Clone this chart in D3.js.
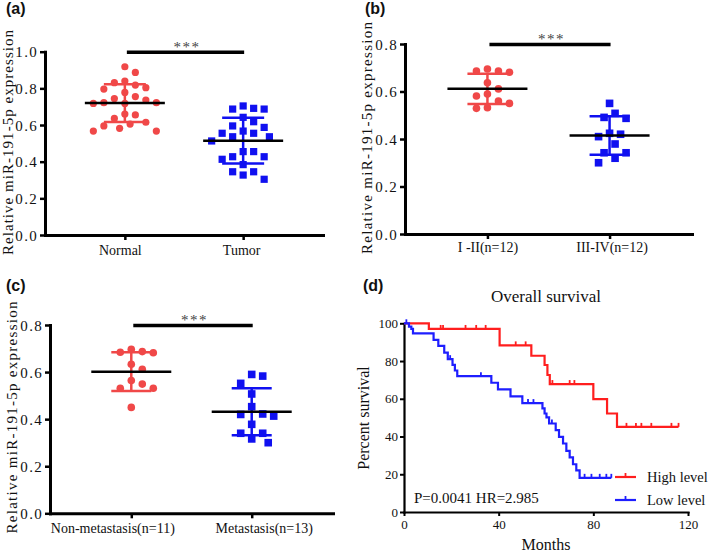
<!DOCTYPE html>
<html><head><meta charset="utf-8">
<script src="https://cdn.jsdelivr.net/npm/d3@7"></script>
<style>body{margin:0;background:#fff}svg{display:block}</style>
</head><body>
<svg id="c" width="709" height="552"></svg>
<script>
// ---------- DATA ----------
const catsA = ["Normal", "Tumor"];
const normalVals = [0.918,0.887,0.831,0.84,0.804,0.796,0.818,0.755,0.778,0.736,0.722,0.718,0.718,0.722,0.744,0.655,0.636,0.66,0.605,0.582,0.567,0.567,0.595,0.615];
const tumorVals  = [0.704,0.687,0.687,0.691,0.642,0.618,0.595,0.587,0.555,0.536,0.536,0.555,0.567,0.513,0.455,0.455,0.427,0.413,0.427,0.384,0.345,0.327,0.345,0.304];

const catsB = ["I -II(n=12)", "III-IV(n=12)"];
const stageEarlyVals = [0.695,0.686,0.686,0.681,0.637,0.611,0.589,0.581,0.550,0.529,0.532,0.560];
const stageLateVals  = [0.550,0.508,0.487,0.491,0.424,0.410,0.420,0.379,0.342,0.342,0.319,0.300];

const catsC = ["Non-metastasis(n=11)", "Metastasis(n=13)"];
const nonMetVals = [0.697,0.684,0.682,0.687,0.612,0.633,0.564,0.531,0.531,0.549,0.450];
const metVals    = [0.583,0.590,0.552,0.507,0.453,0.422,0.413,0.420,0.378,0.340,0.340,0.316,0.300];

const ticksA = [0, 0.2, 0.4, 0.6, 0.8, 1.0];
const ticksBC = [0, 0.2, 0.4, 0.6, 0.8];

// survival (Kaplan-Meier steps)
const highTimes = [10.5, 40.4, 53.8, 59.4, 60.6, 61.6, 80, 85.8, 90];
const highSurv  = [97, 88.3, 82.8, 77.9, 72.6, 67.8, 59.8, 52.2, 45.1];
const highEnd = 116;
const highCensor = [15.5, 16.5, 26, 30.5, 34.5, 47.2, 51.4, 62.7, 70, 72, 94, 98, 100.3, 104.5, 113, 116];

const lowTimes = [2.1, 3.1, 3.8, 12.5, 14.5, 17, 18.5, 20.5, 21.5, 22.5, 36.9, 39.7, 45, 50, 58.5, 59.4, 60.2, 61.3, 64.1, 65.5, 67.2, 68.6, 70, 71.4, 72.8, 74.2];
const lowSurv  = [98.2, 97, 94.7, 91.2, 88, 84.5, 81, 78, 75, 72, 68.5, 65, 61.3, 57.7, 54.9, 52.2, 50.1, 46.9, 43.4, 39.8, 36.3, 32.4, 28.9, 25.3, 22.1, 18.1];
const lowEnd = 87.6;
const lowCensor = [1, 19.5, 32.5, 52.4, 54.7, 62.5, 76.3, 79.2, 82.7, 85.5, 87.6];

const monthTicks = [0, 40, 80, 120];
const pctTicks = [0, 20, 40, 60, 80, 100];
const survLegend = ["High level", "Low level"];

// ---------- STYLE ----------
const RED = "#f04848", BLUE = "#1010f0";
const KRED = "#ff1e1e", KBLUE = "#1e1eff";
const SERIF = "'Liberation Serif','Times New Roman',serif";
const SANS = "'Liberation Sans',Arial,sans-serif";

const svg = d3.select("#c");

function swarm(vals, y, cx, d) {
  const order = vals.map((v, i) => i).sort((a, b) => vals[b] - vals[a]);
  const placed = [];
  const out = new Array(vals.length);
  for (const i of order) {
    const py = y(vals[i]);
    for (let k = 0; k < 40; k++) {
      const off = (k % 2 === 1 ? 1 : -1) * Math.ceil(k / 2) * d / 2;
      const px = cx + off;
      if (placed.every(p => (p[0] - px) ** 2 + (p[1] - py) ** 2 >= d * d * 0.98)) {
        placed.push([px, py]); out[i] = [px, py]; break;
      }
    }
  }
  return out;
}

function scatterPanel(o) {
  const g = svg.append("g");
  const y = d3.scaleLinear().domain([0, o.yMax]).range([o.yBot, o.yTop]);
  const x = d3.scalePoint().domain(o.cats).range([o.x0, o.x1]).padding(0.675);

  o.series.forEach((vals, si) => {
    const pos = swarm(vals, y, x(o.cats[si]), o.spacing);
    const col = si === 0 ? RED : BLUE;
    if (si === 0) {
      g.selectAll(null).data(pos).join("circle")
        .attr("cx", p => p[0]).attr("cy", p => p[1]).attr("r", o.r).attr("fill", col);
    } else {
      g.selectAll(null).data(pos).join("rect")
        .attr("x", p => p[0] - o.r).attr("y", p => p[1] - o.r)
        .attr("width", o.r * 2).attr("height", o.r * 2).attr("fill", col);
    }
    const m = d3.mean(vals), sd = d3.deviation(vals), cx = x(o.cats[si]);
    g.append("line").attr("x1", cx).attr("x2", cx).attr("y1", y(m - sd)).attr("y2", y(m + sd))
      .attr("stroke", col).attr("stroke-width", 2.5);
    [m - sd, m + sd].forEach(v => g.append("line").attr("x1", cx - o.cap).attr("x2", cx + o.cap)
      .attr("y1", y(v)).attr("y2", y(v)).attr("stroke", col).attr("stroke-width", 2.5));
    g.append("line").attr("x1", cx - 40).attr("x2", cx + 40).attr("y1", y(m)).attr("y2", y(m))
      .attr("stroke", "#000").attr("stroke-width", 2.5);
  });

  const ya = g.append("g").attr("transform", `translate(${o.x0},0)`)
    .call(d3.axisLeft(y).tickValues(o.ticks).tickFormat(d3.format(".1f")).tickSize(5).tickSizeOuter(0).tickPadding(2));
  const xa = g.append("g").attr("transform", `translate(0,${o.yBot})`)
    .call(d3.axisBottom(x).tickSize(5).tickSizeOuter(0));
  [ya, xa].forEach(a => {
    a.select(".domain").attr("stroke-width", 3).attr("stroke-linecap", "square");
    a.selectAll(".tick line").attr("stroke-width", 2.5);
    a.attr("font-family", SERIF).attr("font-size", 14);
  });
  ya.selectAll("text").attr("font-size", 15).attr("letter-spacing", 1.3).attr("dy", "0.34em").attr("fill", "#111");
  xa.selectAll("text").attr("y", o.catBase - o.yBot).attr("dy", 0).attr("fill", "#111")
    .attr("x", (d, i) => o.catDx[i]);

  g.append("text").attr("transform", `translate(${o.ylx},${o.yly}) rotate(-90)`)
    .attr("text-anchor", "middle").attr("font-family", SERIF).attr("font-size", 15)
    .attr("textLength", o.ylLen).attr("lengthAdjust", "spacing").attr("fill", "#111")
    .text("Relative miR-191-5p expression");

  const sy = o.yTop + 0.5;
  g.append("line").attr("x1", x(o.cats[0]) + 2).attr("x2", x(o.cats[1]) + 1)
    .attr("y1", sy).attr("y2", sy).attr("stroke", "#000").attr("stroke-width", 3.5);
  g.append("text").attr("x", (x(o.cats[0]) + x(o.cats[1])) / 2 + 3).attr("y", sy - 0.5)
    .attr("text-anchor", "middle").attr("font-family", SERIF).attr("font-size", 15)
    .attr("letter-spacing", 1.5).attr("fill", "#444").text("***");

  svg.append("text").attr("x", o.lx).attr("y", o.ly).attr("font-family", SANS)
    .attr("font-weight", "bold").attr("font-size", 16).attr("fill", "#111").text(o.label);
}

scatterPanel({cats: catsA, series: [normalVals, tumorVals], yMax: 1.0, ticks: ticksA,
  x0: 45, x1: 323, yTop: 51.7, yBot: 235, r: 3.6, spacing: 10.5, cap: 21,
  catBase: 255, catDx: [-5, -2], ylx: 12.5, yly: 142.5, ylLen: 225, label: "(a)", lx: 6, ly: 14});
scatterPanel({cats: catsB, series: [stageEarlyVals, stageLateVals], yMax: 0.8, ticks: ticksBC,
  x0: 405, x1: 692, yTop: 44, yBot: 234, r: 3.8, spacing: 11, cap: 20,
  catBase: 252, catDx: [0, 2], ylx: 372, yly: 138, ylLen: 232, label: "(b)", lx: 365, ly: 14});
scatterPanel({cats: catsC, series: [nonMetVals, metVals], yMax: 0.8, ticks: ticksBC,
  x0: 50, x1: 333, yTop: 325, yBot: 513.3, r: 3.8, spacing: 11, cap: 20,
  catBase: 533, catDx: [-19, 12], ylx: 17, yly: 417.5, ylLen: 232, label: "(c)", lx: 6, ly: 291});

// ---------- Panel (d) ----------
const gd = svg.append("g");
const xK = d3.scaleLinear().domain([0, 120]).range([404, 688]);
const yK = d3.scaleLinear().domain([0, 100]).range([512, 323.3]);

const xaK = gd.append("g").attr("transform", "translate(0,512)")
  .call(d3.axisBottom(xK).tickValues(monthTicks).tickSize(4).tickSizeOuter(0).tickPadding(4));
const yaK = gd.append("g").attr("transform", "translate(404,0)")
  .call(d3.axisLeft(yK).tickValues(pctTicks).tickSize(4).tickSizeOuter(0).tickPadding(2));
[xaK, yaK].forEach(a => {
  a.select(".domain").attr("stroke-width", 2.2).attr("stroke-linecap", "square");
  a.selectAll(".tick line").attr("stroke-width", 2);
  a.attr("font-family", SERIF).attr("font-size", 13);
  a.selectAll("text").attr("fill", "#111");
});

function kmPath(times, surv, end) {
  const pts = [[0, 100]].concat(times.map((t, i) => [t, surv[i]]), [[end, surv[surv.length - 1]]]);
  return d3.line().x(d => xK(d[0])).y(d => yK(d[1])).curve(d3.curveStepAfter)(pts);
}
function survAt(times, surv, t) {
  let s = 100;
  times.forEach((tt, i) => { if (tt <= t) s = surv[i]; });
  return s;
}
[[highTimes, highSurv, highEnd, highCensor, KRED], [lowTimes, lowSurv, lowEnd, lowCensor, KBLUE]]
  .forEach(([t, s, e, c, col]) => {
    gd.append("path").attr("d", kmPath(t, s, e)).attr("fill", "none").attr("stroke", col).attr("stroke-width", 2.2);
    gd.selectAll(null).data(c).join("line")
      .attr("x1", d => xK(d)).attr("x2", d => xK(d))
      .attr("y1", d => yK(survAt(t, s, d))).attr("y2", d => yK(survAt(t, s, d)) - 4)
      .attr("stroke", col).attr("stroke-width", 1.8);
  });

survLegend.forEach((name, i) => {
  const ly = 477 + i * 23, col = i === 0 ? KRED : KBLUE;
  gd.append("line").attr("x1", 615).attr("x2", 636).attr("y1", ly).attr("y2", ly).attr("stroke", col).attr("stroke-width", 2.2);
  gd.append("line").attr("x1", 625.5).attr("x2", 625.5).attr("y1", ly).attr("y2", ly - 4).attr("stroke", col).attr("stroke-width", 1.8);
  gd.append("text").attr("x", 647).attr("y", ly + 5).attr("font-family", SERIF).attr("font-size", 14.5)
    .attr("fill", "#111").text(name);
});

gd.append("text").attr("x", 414).attr("y", 503).attr("font-family", SERIF).attr("font-size", 15)
  .attr("fill", "#111").text("P=0.0041 HR=2.985");
gd.append("text").attr("x", 546).attr("y", 302).attr("text-anchor", "middle").attr("font-family", SERIF)
  .attr("font-size", 17).attr("fill", "#111").text("Overall survival");
gd.append("text").attr("x", 546).attr("y", 550).attr("text-anchor", "middle").attr("font-family", SERIF)
  .attr("font-size", 16).attr("fill", "#111").text("Months");
gd.append("text").attr("transform", "translate(369,418) rotate(-90)").attr("text-anchor", "middle")
  .attr("font-family", SERIF).attr("font-size", 16).attr("fill", "#111").text("Percent survival");
svg.append("text").attr("x", 363).attr("y", 291).attr("font-family", SANS).attr("font-weight", "bold")
  .attr("font-size", 16).attr("fill", "#111").text("(d)");
</script>
</body></html>
